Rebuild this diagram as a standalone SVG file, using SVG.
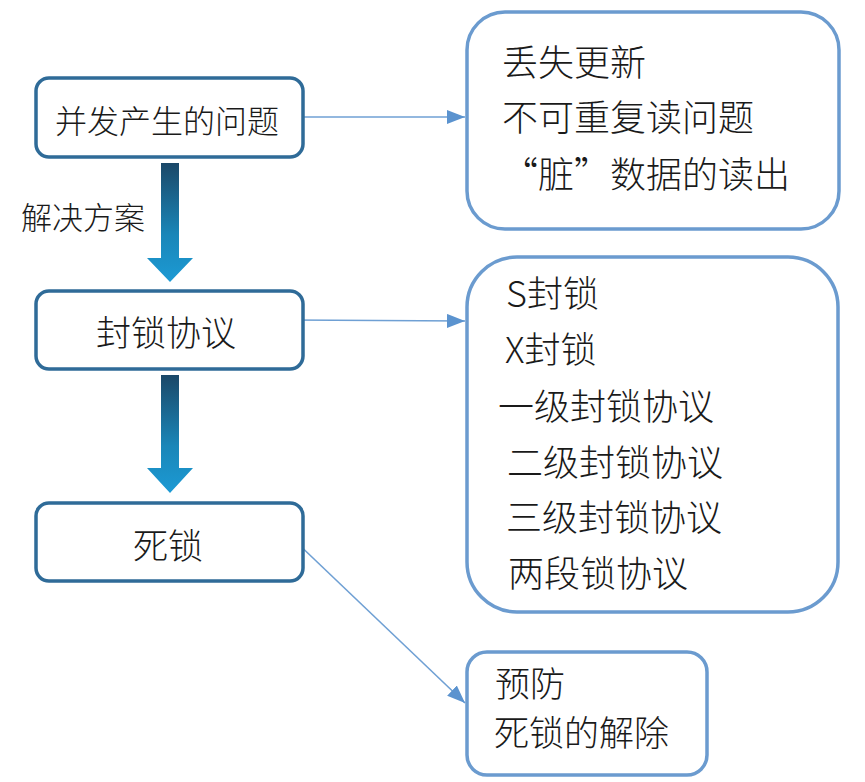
<svg xmlns="http://www.w3.org/2000/svg" width="865" height="782" viewBox="0 0 865 782">
<style>
.lbox{fill:#fff;stroke:#2f6b98;stroke-width:3.5}
.rbox{fill:#fff;stroke:#6b9bcf;stroke-width:3.5}
text{font-family:"Noto Sans CJK SC","Noto Sans",sans-serif;font-weight:300;fill:#1a1a1a}
.lt{font-size:32px;text-anchor:middle}
.lt2{font-size:35px;text-anchor:middle}
.rt{font-size:36px}
.ct{font-size:35px}
.conn{stroke:#6fa0d4;stroke-width:1.6;fill:none}
</style>
<defs>
<linearGradient id="g" x1="0" y1="0" x2="0" y2="1">
<stop offset="0" stop-color="#1b4868"/>
<stop offset="0.6" stop-color="#1a86b8"/>
<stop offset="1" stop-color="#1c9ad4"/>
</linearGradient>
<marker id="ah" viewBox="0 0 18 14" refX="18" refY="7" markerWidth="18" markerHeight="14" markerUnits="userSpaceOnUse" orient="auto">
<path d="M0,0 L18,7 L0,14 Z" fill="#5b93cf"/>
</marker>
</defs>
<g id="connectors">
<line class="conn" x1="290" y1="117" x2="465" y2="117" marker-end="url(#ah)"/>
<line class="conn" x1="290" y1="320" x2="465" y2="321" marker-end="url(#ah)"/>
<line class="conn" x1="292" y1="538" x2="465" y2="703" marker-end="url(#ah)"/>
<path d="M161,163 H179 V258 H193 L170,282 L147,258 H161 Z" fill="url(#g)"/>
<path d="M161,375 H179 V468 H193 L170,493 L147,468 H161 Z" fill="url(#g)"/>
<text x="21" y="229" style="font-size:31px">解决方案</text>
</g>
<g id="node-problems">
<rect class="lbox" x="36" y="78" width="267" height="79" rx="13"/>
<text class="lt" x="167" y="133">并发产生的问题</text>
</g>
<g id="node-protocol">
<rect class="lbox" x="36" y="291" width="267" height="78" rx="13"/>
<text class="lt2" x="166" y="346">封锁协议</text>
</g>
<g id="node-deadlock">
<rect class="lbox" x="36" y="503" width="267" height="78" rx="13"/>
<text class="lt2" x="168" y="559">死锁</text>
</g>
<g id="node-problem-list">
<rect class="rbox" x="467" y="12" width="372" height="217" rx="38"/>
<text class="rt" x="502" y="76">丢失更新</text>
<text class="rt" x="502" y="131">不可重复读问题</text>
<text class="rt" x="502" y="188">“脏”数据的读出</text>
</g>
<g id="node-lock-list">
<rect class="rbox" x="467" y="257" width="371" height="355" rx="50"/>
<text class="rt" x="506" y="307">S封锁</text>
<text class="rt" x="505" y="363">X封锁</text>
<text class="rt" x="498" y="420">一级封锁协议</text>
<text class="rt" x="507" y="476">二级封锁协议</text>
<text class="rt" x="506" y="531">三级封锁协议</text>
<text class="rt" x="508" y="587">两段锁协议</text>
</g>
<g id="node-deadlock-list">
<rect class="rbox" x="467" y="652" width="240" height="123" rx="20"/>
<text class="ct" x="495" y="697">预防</text>
<text class="ct" x="494" y="746">死锁的解除</text>
</g>
</svg>
